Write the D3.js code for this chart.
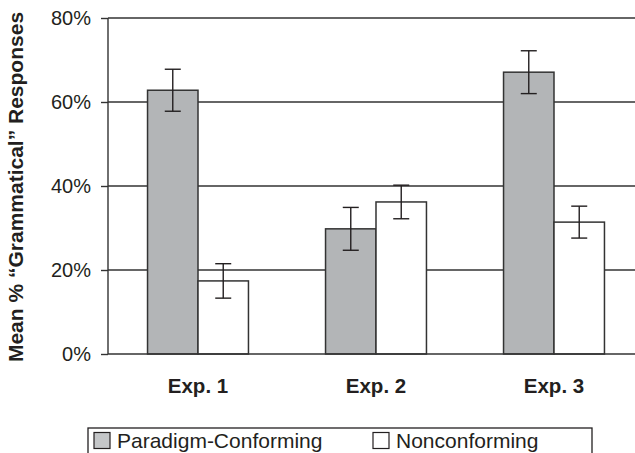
<!DOCTYPE html>
<html>
<head>
<meta charset="utf-8">
<script src="https://cdn.jsdelivr.net/npm/d3@7"></script>
<style>
  body { margin: 0; background: #fff; }
  text { font-family: "Liberation Sans", Arial, sans-serif; fill: #231f20; }
</style>
</head>
<body>
<div id="chart"></div>
<script>
// data
var experiments = ["Exp. 1", "Exp. 2", "Exp. 3"];
var seriesNames = ["Paradigm-Conforming", "Nonconforming"];
var conformingMeans = [62.8, 29.8, 67.1];
var conformingErrors = [5.0, 5.1, 5.1];
var nonconformingMeans = [17.4, 36.2, 31.4];
var nonconformingErrors = [4.1, 4.0, 3.8];
var yTicks = [0, 20, 40, 60, 80];
var seriesColors = ["#b3b5b7", "#ffffff"];

var svgWidth = 635;
var svgHeight = 453;
var margin = { top: 18, right: -8, bottom: 99, left: 108 };
var width = svgWidth - margin.left - margin.right;
var height = svgHeight - margin.top - margin.bottom;

var svg = d3.select("#chart")
  .append("svg")
  .attr("width", svgWidth)
  .attr("height", svgHeight);

var chartGroup = svg.append("g")
  .attr("transform", `translate(${margin.left}, ${margin.top})`);

// build rows for the bars
var rows = experiments.map(function(e, i) {
  return {
    exp: e,
    bars: [
      { name: seriesNames[0], mean: conformingMeans[i], err: conformingErrors[i] },
      { name: seriesNames[1], mean: nonconformingMeans[i], err: nonconformingErrors[i] }
    ]
  };
});

var x0 = d3.scaleBand()
  .domain(experiments)
  .range([1, width])
  .paddingInner(0.433)
  .paddingOuter(0.2165);

var x1 = d3.scaleBand()
  .domain(seriesNames)
  .range([0, x0.bandwidth()]);

var y = d3.scaleLinear()
  .domain([0, 80])
  .range([height, 0]);

var color = d3.scaleOrdinal().domain(seriesNames).range(seriesColors);

// gridlines
chartGroup.append("g")
  .selectAll("line")
  .data(yTicks.slice(1))
  .enter()
  .append("line")
  .attr("x1", 0)
  .attr("x2", width)
  .attr("y1", d => y(d))
  .attr("y2", d => y(d))
  .attr("stroke", "#333")
  .attr("stroke-width", 1.4);

// y axis
var leftAxis = d3.axisLeft(y)
  .tickValues(yTicks)
  .tickSize(7)
  .tickPadding(10)
  .tickFormat(d => d + "%");

var yAxis = chartGroup.append("g").call(leftAxis);
yAxis.select(".domain").remove();
yAxis.selectAll("line").attr("stroke", "#333").attr("stroke-width", 1.4);
yAxis.selectAll("text")
  .attr("font-size", "20px")
  .attr("fill", "#231f20")
  .attr("font-family", "Liberation Sans, Arial, sans-serif");

chartGroup.append("line")
  .attr("x1", 0).attr("x2", 0)
  .attr("y1", 0).attr("y2", height)
  .attr("stroke", "#333")
  .attr("stroke-width", 1.4);

// bars
var groups = chartGroup.selectAll(".exp")
  .data(rows)
  .enter()
  .append("g")
  .attr("class", "exp")
  .attr("transform", d => `translate(${x0(d.exp)},0)`);

groups.selectAll("rect")
  .data(d => d.bars)
  .enter()
  .append("rect")
  .attr("x", d => x1(d.name))
  .attr("y", d => y(d.mean))
  .attr("width", x1.bandwidth())
  .attr("height", d => height - y(d.mean))
  .attr("fill", d => color(d.name))
  .attr("stroke", "#333")
  .attr("stroke-width", 1.5);

// error bars
var capHalf = 8;
var errs = groups.selectAll(".err")
  .data(d => d.bars)
  .enter()
  .append("g")
  .attr("class", "err")
  .attr("stroke", "#231f20")
  .attr("stroke-width", 1.4);

errs.append("line")
  .attr("x1", d => x1(d.name) + x1.bandwidth() / 2)
  .attr("x2", d => x1(d.name) + x1.bandwidth() / 2)
  .attr("y1", d => y(d.mean + d.err))
  .attr("y2", d => y(d.mean - d.err));
errs.append("line")
  .attr("x1", d => x1(d.name) + x1.bandwidth() / 2 - capHalf)
  .attr("x2", d => x1(d.name) + x1.bandwidth() / 2 + capHalf)
  .attr("y1", d => y(d.mean + d.err))
  .attr("y2", d => y(d.mean + d.err));
errs.append("line")
  .attr("x1", d => x1(d.name) + x1.bandwidth() / 2 - capHalf)
  .attr("x2", d => x1(d.name) + x1.bandwidth() / 2 + capHalf)
  .attr("y1", d => y(d.mean - d.err))
  .attr("y2", d => y(d.mean - d.err));

// x axis line
chartGroup.append("line")
  .attr("x1", 0).attr("x2", width)
  .attr("y1", height).attr("y2", height)
  .attr("stroke", "#333")
  .attr("stroke-width", 1.6);

// x labels
chartGroup.selectAll(".xlab")
  .data(experiments)
  .enter()
  .append("text")
  .attr("class", "xlab")
  .attr("x", d => x0(d) + x0.bandwidth() / 2)
  .attr("y", height + 39)
  .attr("text-anchor", "middle")
  .attr("font-size", "20.5px")
  .attr("font-weight", "bold")
  .text(d => d);

// y axis title
svg.append("text")
  .attr("transform", `translate(23, ${margin.top + height / 2 + 1}) rotate(-90)`)
  .attr("text-anchor", "middle")
  .attr("font-size", "21px")
  .attr("font-weight", "bold")
  .text("Mean % \u201cGrammatical\u201d Responses");

// legend
var legend = svg.append("g").attr("transform", "translate(88, 428)");
legend.append("rect")
  .attr("x", 0).attr("y", 0)
  .attr("width", 504).attr("height", 40)
  .attr("fill", "none")
  .attr("stroke", "#231f20")
  .attr("stroke-width", 1.3);

var legendX = [6, 285];
var items = legend.selectAll(".item")
  .data(seriesNames)
  .enter()
  .append("g")
  .attr("class", "item")
  .attr("transform", (d, i) => `translate(${legendX[i]}, 0)`);

items.append("rect")
  .attr("x", 0).attr("y", 4.5)
  .attr("width", 16).attr("height", 16)
  .attr("fill", d => d === seriesNames[0] ? "#c4c6c8" : "#fff")
  .attr("stroke", "#231f20")
  .attr("stroke-width", 1.2);

items.append("text")
  .attr("x", 23)
  .attr("y", 20)
  .attr("font-size", "21px")
  .text(d => d);
</script>
</body>
</html>
